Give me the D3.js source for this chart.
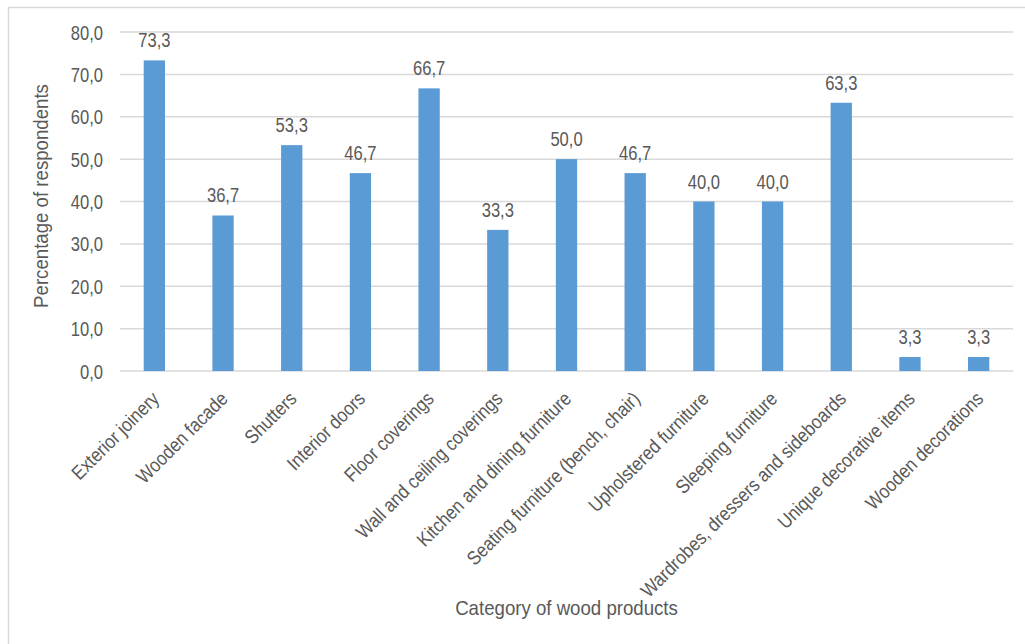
<!DOCTYPE html>
<html>
<head>
<meta charset="utf-8">
<script src="https://cdn.jsdelivr.net/npm/d3@7/dist/d3.min.js"></script>
<style>
  html, body { margin: 0; padding: 0; background: #fff; }
  svg { display: block; }
  text { font-family: "Liberation Sans", Arial, sans-serif; fill: #595959; }
</style>
</head>
<body>
<svg id="chart" width="1025" height="644"></svg>
<script>
// Share of respondents per category of wood products (%)
const categories = [
  "Exterior joinery",
  "Wooden facade",
  "Shutters",
  "Interior doors",
  "Floor coverings",
  "Wall and ceiling coverings",
  "Kitchen and dining furniture",
  "Seating furniture (bench, chair)",
  "Upholstered furniture",
  "Sleeping furniture",
  "Wardrobes, dressers and sideboards",
  "Unique decorative items",
  "Wooden decorations"
];
const values = [73.3, 36.7, 53.3, 46.7, 66.7, 33.3, 50.0, 46.7, 40.0, 40.0, 63.3, 3.3, 3.3];
const yTicks = [0, 10, 20, 30, 40, 50, 60, 70, 80];
const yTitle = "Percentage of respondents";
const xTitle = "Category of wood products";

const svg = d3.select("#chart");
const W = 1025, H = 644;
const plot = { left: 120, right: 1013, top: 32, bottom: 371 };

// condensed look: regular face, narrowed horizontally
const LABEL_SIZE = 19.5, LABEL_SX = 0.85, CAT_SX = 0.88;
const TITLE_SIZE = 20.5, TITLE_SX = 0.91;

const fmt = v => d3.format(".1f")(v).replace(".", ",");

// outer chart frame
svg.append("rect")
  .attr("x", 8.5).attr("y", 7.5)
  .attr("width", W + 20).attr("height", H + 20)
  .attr("fill", "#fff")
  .attr("stroke", "#d9d9d9").attr("stroke-width", 1.5);

const x = d3.scaleBand()
  .domain(categories)
  .range([plot.left, plot.right])
  .paddingInner(0.69)
  .paddingOuter(0.345);

const y = d3.scaleLinear()
  .domain([0, 80])
  .range([plot.bottom, plot.top]);

// horizontal gridlines
svg.append("g")
  .selectAll("line")
  .data(yTicks)
  .join("line")
  .attr("x1", plot.left).attr("x2", plot.right)
  .attr("y1", d => y(d)).attr("y2", d => y(d))
  .attr("stroke", "#d9d9d9").attr("stroke-width", 1.5);

// y axis labels
const yAxis = d3.axisLeft(y).tickValues(yTicks).tickFormat(fmt).tickSize(0).tickPadding(0);
const gy = svg.append("g").attr("transform", `translate(${plot.left},0)`).call(yAxis);
gy.select(".domain").remove();
gy.selectAll("text")
  .attr("font-family", null)
  .attr("fill", "#595959")
  .style("font-size", LABEL_SIZE + "px")
  .attr("x", 0)
  .attr("dy", "0.36em")
  .attr("transform", `translate(-17,0) scale(${LABEL_SX},1)`);

// bars
svg.append("g")
  .selectAll("rect")
  .data(values)
  .join("rect")
  .attr("x", (d, i) => x(categories[i]))
  .attr("y", d => y(d))
  .attr("width", x.bandwidth())
  .attr("height", d => y(0) - y(d))
  .attr("fill", "#5b9bd5");

// value labels
svg.append("g")
  .selectAll("text")
  .data(values)
  .join("text")
  .attr("transform", (d, i) =>
    `translate(${x(categories[i]) + x.bandwidth() / 2},${y(d) - 13}) scale(${LABEL_SX},1)`)
  .attr("text-anchor", "middle")
  .style("font-size", LABEL_SIZE + "px")
  .text(d => fmt(d));

// category labels, rotated
const xAxis = d3.axisBottom(x).tickSize(0).tickPadding(0);
const gx = svg.append("g").attr("transform", `translate(0,${plot.bottom})`).call(xAxis);
gx.select(".domain").remove();
gx.selectAll("text")
  .attr("font-family", null)
  .attr("fill", "#595959")
  .style("font-size", LABEL_SIZE + "px")
  .attr("text-anchor", "end")
  .attr("dy", null)
  .attr("y", 0)
  .attr("transform", `translate(6,29) rotate(-45) scale(${CAT_SX},1)`);

// axis titles
svg.append("text")
  .attr("transform", `translate(47.5,196) rotate(-90) scale(${TITLE_SX},1)`)
  .attr("text-anchor", "middle")
  .style("font-size", TITLE_SIZE + "px")
  .text(yTitle);

svg.append("text")
  .attr("transform", `translate(${(plot.left + plot.right) / 2},615) scale(${TITLE_SX},1)`)
  .attr("text-anchor", "middle")
  .style("font-size", TITLE_SIZE + "px")
  .text(xTitle);
</script>
</body>
</html>
